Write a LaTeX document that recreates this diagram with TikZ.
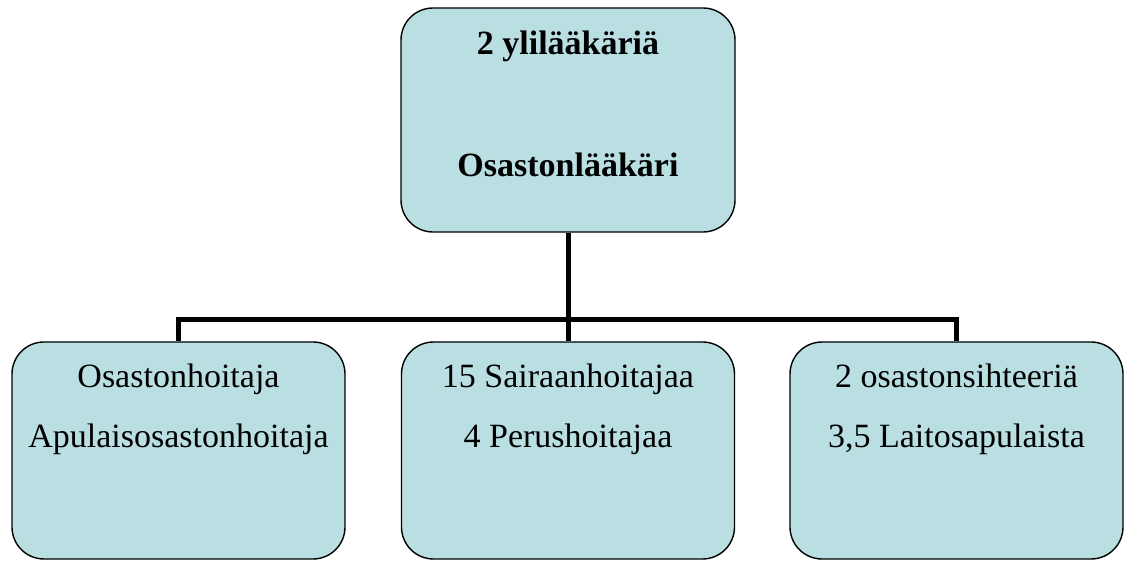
\documentclass[tikz,border=0pt]{standalone}
\usepackage{fontspec}
\setmainfont{Liberation Serif}
\usetikzlibrary{positioning}
\definecolor{boxblue}{RGB}{185,223,227}
\tikzset{
  orgbox/.style={draw=black, line width=1.4pt, fill=boxblue, rounded corners=32pt, inner sep=0pt},
  orgline/.style={line width=5pt},
  orgtext/.style={anchor=base, inner sep=0pt},
}
\begin{document}
\begin{tikzpicture}[x=1pt,y=1pt,font=\fontsize{34}{40}\selectfont]
\useasboundingbox (0,0) rectangle (1125,560);
% boxes
\node[orgbox, minimum width=334pt, minimum height=224pt] (chief) at (568,440) {};
\foreach \n/\x in {left/178.5, mid/568, right/956.5}{
  \node[orgbox, minimum width=333pt, minimum height=217pt] (\n) at (\x,109.5) {};
}
% connectors
\coordinate (fork) at (568,240);
\draw[orgline] (chief.south) -- (mid.north);
\draw[orgline] (left.north) |- (fork) -| (right.north);
% texts
\node[orgtext] (chiefA) at ([yshift=-47pt]chief.north) {\bfseries 2 ylilääkäriä};
\node[orgtext] (chiefB) at ([yshift=-169pt]chief.north) {\bfseries Osastonlääkäri};
\foreach \n/\a/\b in {left/Osastonhoitaja/Apulaisosastonhoitaja, mid/15 Sairaanhoitajaa/4 Perushoitajaa, right/2 osastonsihteeriä/{3,5 Laitosapulaista}}{
  \node[orgtext] (\n A) at ([yshift=-46pt]\n.north) {\a};
  \node[orgtext] (\n B) at ([yshift=-106pt]\n.north) {\b};
}
\end{tikzpicture}
\end{document}
